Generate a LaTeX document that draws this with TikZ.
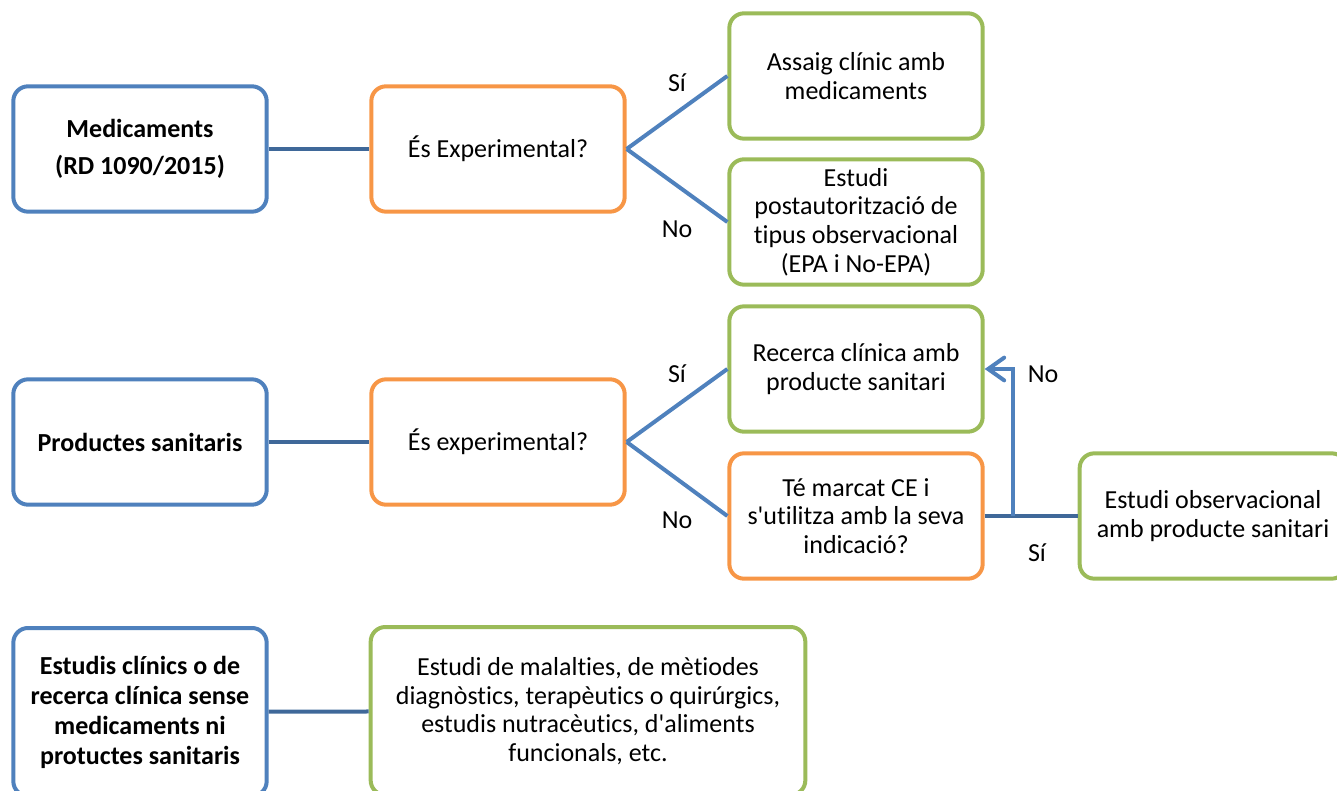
\documentclass[tikz,border=0pt]{standalone}
\usepackage{fontspec}
\setmainfont{Carlito}[Ligatures=NoCommon]
\usepackage{tikz}
\usetikzlibrary{arrows.meta,positioning}

\definecolor{boxblue}{HTML}{4F81BD}
\definecolor{boxorange}{HTML}{F79646}
\definecolor{boxgreen}{HTML}{9BBB59}
\definecolor{linkdark}{HTML}{3F6899}

\tikzset{
  box/.style={draw, line width=3pt, rounded corners=11pt, fill=white,
    minimum width=190pt, minimum height=94pt, align=center,
    font=\fontsize{19.5pt}{21.5pt}\selectfont},
  typebox/.style={box, draw=boxblue, font=\fontsize{19.5pt}{22.5pt}\selectfont\bfseries},
  askbox/.style={box, draw=boxorange},
  endbox/.style={box, draw=boxgreen},
  link/.style={draw=linkdark, line width=3pt},
  branch/.style={draw=boxblue, line width=3pt},
  answer/.style={font=\fontsize{19.5pt}{21.5pt}\selectfont}
}

\begin{document}
\begin{tikzpicture}[x=0.75pt, y=-0.75pt]
  \useasboundingbox (0,0) rectangle (1337,791);

  % medicaments
  \node[typebox] (med) at (140,149) {Medicaments\\[5pt](RD 1090/2015)};
  \node[askbox] (askmed) at (498,149) {És Experimental?};
  \node[endbox] (assaig) at (856,76) {Assaig clínic amb\\medicaments};
  \node[endbox] (postaut) at (856,222) {Estudi\\postautorització de\\tipus observacional\\(EPA i No-EPA)};
  \draw[link] (med) -- (askmed);
  \draw[branch] (askmed.east) -- (assaig.west);
  \draw[branch] (askmed.east) -- (postaut.west);
  \node[answer] (si1) at (677,83) {Sí};
  \node[answer] (no1) at (677,229) {No};

  % productes sanitaris
  \node[typebox] (prod) at (140,442) {Productes sanitaris};
  \node[askbox] (askprod) at (498,442) {És experimental?};
  \node[endbox] (recerca) at (856,369) {Recerca clínica amb\\producte sanitari};
  \node[askbox] (marcat) at (856,516) {Té marcat CE i\\s\textquotesingle utilitza amb la seva\\indicació?};
  \node[endbox, minimum width=200pt] (observ) at (1213,516) {Estudi observacional\\amb producte sanitari};
  \draw[link] (prod) -- (askprod);
  \draw[branch] (askprod.east) -- (recerca.west);
  \draw[branch] (askprod.east) -- (marcat.west);
  \node[answer] (si2) at (677,374) {Sí};
  \node[answer] (no2) at (677,520) {No};
  \coordinate (turn) at (1013,516);
  \draw[link] (marcat.east) -- (observ.west);
  \draw[branch, -{Straight Barb[length=12pt, width=17pt, line cap=round]}] (turn) |- (recerca.east);
  \node[answer] (no3) at (1043,374) {No};
  \node[answer] (si3) at (1037,553) {Sí};

  % altres estudis
  \node[typebox, minimum height=126pt] (altres) at (140,712) {Estudis clínics o de\\recerca clínica sense\\medicaments ni\\protuctes sanitaris};
  \node[endbox, minimum width=326pt, minimum height=126pt] (malalt) at (588,711) {Estudi de malalties, de mètiodes\\diagnòstics, terapèutics o quirúrgics,\\estudis nutracèutics, d\textquotesingle aliments\\funcionals, etc.};
  \draw[link] (altres) -- (malalt);
\end{tikzpicture}
\end{document}
